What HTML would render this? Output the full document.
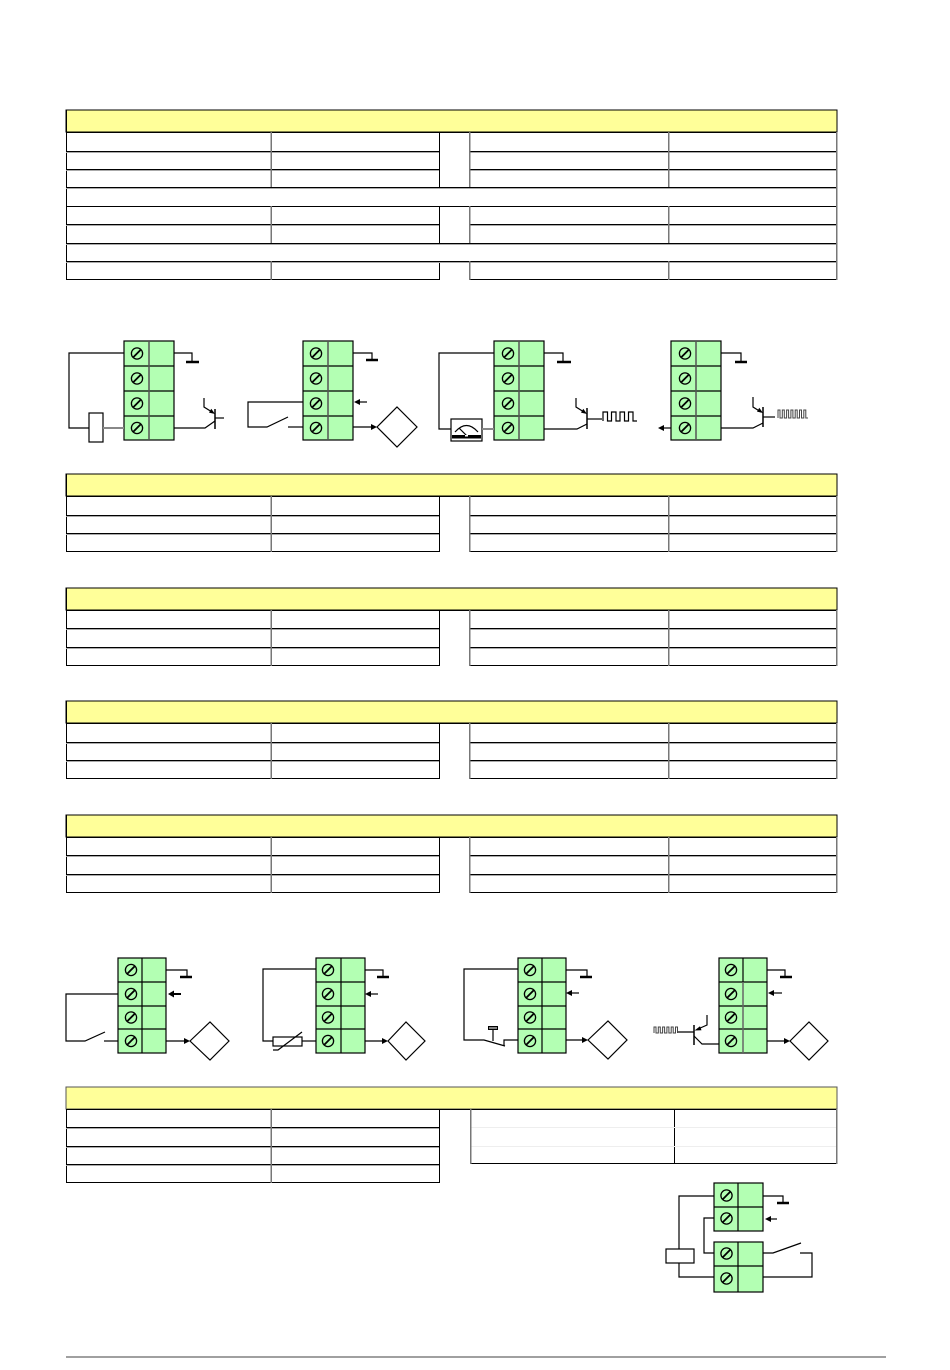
<!DOCTYPE html>
<html><head><meta charset="utf-8"><style>
html,body{margin:0;padding:0;background:#fff;}
svg{display:block;}
</style></head><body>
<svg width="950" height="1370" viewBox="0 0 950 1370" xmlns="http://www.w3.org/2000/svg">
<defs>
<g id="sc"><circle cx="0" cy="0" r="5.6" fill="none" stroke="#000" stroke-width="1.3"/><line x1="-3.6" y1="3.6" x2="3.6" y2="-3.6" stroke="#000" stroke-width="1.8"/></g>
</defs>
<rect width="950" height="1370" fill="#fff"/>

<!-- ============ TABLE 1 ============ -->
<g fill="none" shape-rendering="crispEdges">
<rect x="66" y="110" width="771" height="22" fill="#ffff99" stroke="#000"/>
<g stroke="#000">
<line x1="66" y1="132.5" x2="837" y2="132.5"/>
<line x1="66" y1="151.5" x2="439" y2="151.5"/><line x1="469" y1="151.5" x2="837" y2="151.5"/>
<line x1="66" y1="169.5" x2="439" y2="169.5"/><line x1="469" y1="169.5" x2="837" y2="169.5"/>
<line x1="66" y1="187.5" x2="837" y2="187.5"/>
<line x1="66" y1="206.5" x2="837" y2="206.5"/>
<line x1="66" y1="224.5" x2="439" y2="224.5"/><line x1="469" y1="224.5" x2="837" y2="224.5"/>
<line x1="66" y1="243.5" x2="837" y2="243.5"/>
<line x1="66" y1="261.5" x2="837" y2="261.5"/>
<line x1="66" y1="279.5" x2="439" y2="279.5"/><line x1="469" y1="279.5" x2="837" y2="279.5"/>
<line x1="439.5" y1="132" x2="439.5" y2="187"/><line x1="439.5" y1="206" x2="439.5" y2="243"/><line x1="439.5" y1="261" x2="439.5" y2="280"/>
<line x1="66.5" y1="110" x2="66.5" y2="280"/>
</g>
<g stroke="#aaa">
<line x1="66" y1="152.5" x2="439" y2="152.5"/><line x1="469" y1="152.5" x2="837" y2="152.5"/>
<line x1="66" y1="170.5" x2="439" y2="170.5"/><line x1="469" y1="170.5" x2="837" y2="170.5"/>
<line x1="66" y1="188.5" x2="837" y2="188.5"/>
<line x1="66" y1="225.5" x2="439" y2="225.5"/><line x1="469" y1="225.5" x2="837" y2="225.5"/>
<line x1="66" y1="244.5" x2="837" y2="244.5"/>
<line x1="66" y1="262.5" x2="837" y2="262.5"/>
</g>
<g stroke="#777" stroke-width="1.5">
<line x1="271" y1="132" x2="271" y2="187"/><line x1="271" y1="206" x2="271" y2="243"/><line x1="271" y1="261" x2="271" y2="280"/>
<line x1="469.5" y1="132" x2="469.5" y2="187"/><line x1="469.5" y1="206" x2="469.5" y2="243"/><line x1="469.5" y1="261" x2="469.5" y2="280"/>
<line x1="668.5" y1="132" x2="668.5" y2="187"/><line x1="668.5" y1="206" x2="668.5" y2="243"/><line x1="668.5" y1="261" x2="668.5" y2="280"/>
<line x1="836.5" y1="132" x2="836.5" y2="280"/>
</g>
</g>

<!-- ============ TABLES 2-5 (header + 3 rows) ============ -->
<g fill="none" shape-rendering="crispEdges">
<!-- T2 -->
<rect x="66" y="474" width="771" height="22" fill="#ffff99" stroke="#000"/>
<g stroke="#000">
<line x1="66" y1="496.5" x2="837" y2="496.5"/>
<line x1="66" y1="515.5" x2="439" y2="515.5"/><line x1="469" y1="515.5" x2="837" y2="515.5"/>
<line x1="66" y1="533.5" x2="439" y2="533.5"/><line x1="469" y1="533.5" x2="837" y2="533.5"/>
<line x1="66" y1="551.5" x2="439" y2="551.5"/><line x1="469" y1="551.5" x2="837" y2="551.5"/>
<line x1="439.5" y1="496" x2="439.5" y2="552"/><line x1="66.5" y1="474" x2="66.5" y2="552"/>
</g>
<g stroke="#aaa">
<line x1="66" y1="516.5" x2="439" y2="516.5"/><line x1="469" y1="516.5" x2="837" y2="516.5"/>
<line x1="66" y1="534.5" x2="439" y2="534.5"/><line x1="469" y1="534.5" x2="837" y2="534.5"/>
</g>
<g stroke="#777" stroke-width="1.5">
<line x1="271" y1="496" x2="271" y2="552"/><line x1="469.5" y1="496" x2="469.5" y2="552"/><line x1="668.5" y1="496" x2="668.5" y2="552"/><line x1="836.5" y1="496" x2="836.5" y2="552"/>
</g>
<!-- T3 -->
<rect x="66" y="588" width="771" height="22" fill="#ffff99" stroke="#000"/>
<g stroke="#000">
<line x1="66" y1="610.5" x2="837" y2="610.5"/>
<line x1="66" y1="628.5" x2="439" y2="628.5"/><line x1="469" y1="628.5" x2="837" y2="628.5"/>
<line x1="66" y1="647.5" x2="439" y2="647.5"/><line x1="469" y1="647.5" x2="837" y2="647.5"/>
<line x1="66" y1="665.5" x2="439" y2="665.5"/><line x1="469" y1="665.5" x2="837" y2="665.5"/>
<line x1="439.5" y1="610" x2="439.5" y2="666"/><line x1="66.5" y1="588" x2="66.5" y2="666"/>
</g>
<g stroke="#aaa">
<line x1="66" y1="629.5" x2="439" y2="629.5"/><line x1="469" y1="629.5" x2="837" y2="629.5"/>
<line x1="66" y1="648.5" x2="439" y2="648.5"/><line x1="469" y1="648.5" x2="837" y2="648.5"/>
</g>
<g stroke="#777" stroke-width="1.5">
<line x1="271" y1="610" x2="271" y2="666"/><line x1="469.5" y1="610" x2="469.5" y2="666"/><line x1="668.5" y1="610" x2="668.5" y2="666"/><line x1="836.5" y1="610" x2="836.5" y2="666"/>
</g>
<!-- T4 -->
<rect x="66" y="701" width="771" height="22" fill="#ffff99" stroke="#000"/>
<g stroke="#000">
<line x1="66" y1="723.5" x2="837" y2="723.5"/>
<line x1="66" y1="742.5" x2="439" y2="742.5"/><line x1="469" y1="742.5" x2="837" y2="742.5"/>
<line x1="66" y1="760.5" x2="439" y2="760.5"/><line x1="469" y1="760.5" x2="837" y2="760.5"/>
<line x1="66" y1="778.5" x2="439" y2="778.5"/><line x1="469" y1="778.5" x2="837" y2="778.5"/>
<line x1="439.5" y1="723" x2="439.5" y2="779"/><line x1="66.5" y1="701" x2="66.5" y2="779"/>
</g>
<g stroke="#aaa">
<line x1="66" y1="743.5" x2="439" y2="743.5"/><line x1="469" y1="743.5" x2="837" y2="743.5"/>
<line x1="66" y1="761.5" x2="439" y2="761.5"/><line x1="469" y1="761.5" x2="837" y2="761.5"/>
</g>
<g stroke="#777" stroke-width="1.5">
<line x1="271" y1="723" x2="271" y2="779"/><line x1="469.5" y1="723" x2="469.5" y2="779"/><line x1="668.5" y1="723" x2="668.5" y2="779"/><line x1="836.5" y1="723" x2="836.5" y2="779"/>
</g>
<!-- T5 -->
<rect x="66" y="815" width="771" height="22" fill="#ffff99" stroke="#000"/>
<g stroke="#000">
<line x1="66" y1="837.5" x2="837" y2="837.5"/>
<line x1="66" y1="855.5" x2="439" y2="855.5"/><line x1="469" y1="855.5" x2="837" y2="855.5"/>
<line x1="66" y1="874.5" x2="439" y2="874.5"/><line x1="469" y1="874.5" x2="837" y2="874.5"/>
<line x1="66" y1="892.5" x2="439" y2="892.5"/><line x1="469" y1="892.5" x2="837" y2="892.5"/>
<line x1="439.5" y1="837" x2="439.5" y2="893"/><line x1="66.5" y1="815" x2="66.5" y2="893"/>
</g>
<g stroke="#aaa">
<line x1="66" y1="856.5" x2="439" y2="856.5"/><line x1="469" y1="856.5" x2="837" y2="856.5"/>
<line x1="66" y1="875.5" x2="439" y2="875.5"/><line x1="469" y1="875.5" x2="837" y2="875.5"/>
</g>
<g stroke="#777" stroke-width="1.5">
<line x1="271" y1="837" x2="271" y2="893"/><line x1="469.5" y1="837" x2="469.5" y2="893"/><line x1="668.5" y1="837" x2="668.5" y2="893"/><line x1="836.5" y1="837" x2="836.5" y2="893"/>
</g>
</g>

<!-- ============ LAST TABLE ============ -->
<g fill="none" shape-rendering="crispEdges">
<rect x="66" y="1087" width="771" height="22" fill="#ffff99" stroke="#555"/>
<g stroke="#000">
<line x1="66" y1="1109.5" x2="837" y2="1109.5"/>
<line x1="66" y1="1127.5" x2="439" y2="1127.5"/>
<line x1="66" y1="1146.5" x2="439" y2="1146.5"/>
<line x1="66" y1="1164.5" x2="439" y2="1164.5"/>
<line x1="66" y1="1182.5" x2="439" y2="1182.5"/>
<line x1="439.5" y1="1109" x2="439.5" y2="1183"/>
<line x1="66.5" y1="1109" x2="66.5" y2="1183"/>
<line x1="470" y1="1163.5" x2="837" y2="1163.5"/>
<line x1="674.5" y1="1109" x2="674.5" y2="1164"/>
</g>
<g stroke="#aaa">
<line x1="66" y1="1128.5" x2="439" y2="1128.5"/>
<line x1="66" y1="1147.5" x2="439" y2="1147.5"/>
<line x1="66" y1="1165.5" x2="439" y2="1165.5"/>
</g>
<g stroke="#eee">
<line x1="470" y1="1127.5" x2="837" y2="1127.5"/>
<line x1="470" y1="1146.5" x2="837" y2="1146.5"/>
</g>
<g stroke="#777" stroke-width="1.5">
<line x1="271" y1="1109" x2="271" y2="1183"/>
<line x1="470.5" y1="1109" x2="470.5" y2="1164"/>
<line x1="836.5" y1="1109" x2="836.5" y2="1164"/>
</g>
</g>

<!-- ============ TERMINAL BLOCKS (top row) ============ -->
<g stroke="#000" stroke-width="1.2" fill="#b3ffb3">
<rect x="124" y="341" width="50" height="99"/>
<rect x="303" y="341" width="50" height="99"/>
<rect x="494" y="341" width="50" height="99"/>
<rect x="671" y="341" width="50" height="99"/>
</g>
<g stroke="#000" stroke-width="1.2" fill="none">
<path d="M124 366H174M124 391H174M124 416H174"/>
<path d="M303 366H353M303 391H353M303 416H353"/>
<path d="M494 366H544M494 391H544M494 416H544"/>
<path d="M671 366H721M671 391H721M671 416H721"/>
</g>
<g stroke="#555" stroke-width="1.5" fill="none">
<path d="M149 341V440M328 341V440M519 341V440M696 341V440"/>
</g>
<use href="#sc" x="137" y="353.5"/><use href="#sc" x="137" y="378.5"/><use href="#sc" x="137" y="403.5"/><use href="#sc" x="137" y="428"/>
<use href="#sc" x="316" y="353.5"/><use href="#sc" x="316" y="378.5"/><use href="#sc" x="316" y="403.5"/><use href="#sc" x="316" y="428"/>
<use href="#sc" x="508" y="353.5"/><use href="#sc" x="508" y="378.5"/><use href="#sc" x="508" y="403.5"/><use href="#sc" x="508" y="428"/>
<use href="#sc" x="685" y="353.5"/><use href="#sc" x="685" y="378.5"/><use href="#sc" x="685" y="403.5"/><use href="#sc" x="685" y="428"/>

<!-- Diagram 1 -->
<g stroke="#000" stroke-width="1.2" fill="none">
<path d="M124 353H69V428H89"/>
<rect x="89" y="413" width="14" height="29" fill="#fff"/>
<path d="M174 353H192V362"/>
<path d="M186 362H199" stroke-width="2.5"/>
<path d="M174 428H205L215 421"/>
<path d="M215 409V429" stroke-width="1.5"/>
<path d="M215 418H224"/>
<path d="M204 398V407L212 412"/>
</g>
<path d="M103 428H124" stroke="#888" stroke-width="2"/>
<polygon points="215,414 209,412.6 211.3,408.8" fill="#000"/>

<!-- Diagram 2 -->
<g stroke="#000" stroke-width="1.2" fill="none">
<path d="M353 353H372V360"/>
<path d="M366 360H378" stroke-width="2.5"/>
<path d="M367 402H358"/>
<path d="M303 402H248V427H267L288 417"/>
<path d="M288 427H303"/>
<path d="M353 427H373"/>
<polygon points="377,427 397,407 417,427 397,447" fill="#fff"/>
</g>
<polygon points="354,402 360,399 360,405" fill="#000"/>
<polygon points="377,427 371,424 371,430" fill="#000"/>

<!-- Diagram 3 -->
<g stroke="#000" stroke-width="1.2" fill="none">
<path d="M494 353H439V429H451"/>
<rect x="451" y="419" width="31" height="22" fill="#fff"/>
<path d="M455 432Q466.5 419 478 432"/>
<path d="M467 436L459 428"/>
<path d="M544 353H563V362"/>
<path d="M557 362H571" stroke-width="2.5"/>
<path d="M544 429H577L587 424"/>
<path d="M587 408V429" stroke-width="1.5"/>
<path d="M587 419H602"/>
<path d="M576 398V407L584 412"/>
<path d="M603 421V412H607.5V421H611.5V412H616V421H620V412H624.5V421H628.5V412H633V421H637"/>
</g>
<rect x="452" y="435" width="29" height="3.5" fill="#000"/>
<rect x="465" y="435" width="3" height="1.5" fill="#fff"/>
<path d="M482 429H494" stroke="#888" stroke-width="2"/>
<polygon points="587,414 581,412.6 583.3,408.8" fill="#000"/>

<!-- Diagram 4 -->
<g stroke="#000" stroke-width="1.2" fill="none">
<path d="M721 353H741V362"/>
<path d="M735 362H747" stroke-width="2.5"/>
<path d="M671 428H662"/>
<path d="M721 428H753L763 423"/>
<path d="M763 407V427" stroke-width="1.5"/>
<path d="M763 417H775"/>
<path d="M753 397V407L761 412"/>
</g>
<path d="M778 418V410H780V418H782.3V410H784.3V418H786.6V410H788.6V418H790.9V410H792.9V418H795.2V410H797.2V418H799.5V410H801.5V418H803.8V410H805.8V418H808" stroke="#444" stroke-width="1" fill="none"/>
<polygon points="658,428 664,425 664,431" fill="#000"/>
<polygon points="763,413 757,411.6 759.3,407.8" fill="#000"/>

<!-- ============ TERMINAL BLOCKS (bottom row) ============ -->
<g stroke="#000" stroke-width="1.2" fill="#b3ffb3">
<rect x="118" y="958" width="48" height="95"/>
<rect x="316" y="958" width="49" height="95"/>
<rect x="518" y="958" width="48" height="95"/>
<rect x="719" y="958" width="48" height="95"/>
</g>
<g stroke="#000" stroke-width="1.2" fill="none">
<path d="M118 982H166M118 1006H166M118 1029H166"/>
<path d="M316 982H365M316 1006H365M316 1029H365"/>
<path d="M518 982H566M518 1006H566M518 1029H566"/>
<path d="M719 982H767M719 1006H767M719 1029H767"/>
<path d="M142 958V1053M341 958V1053M542 958V1053M743 958V982"/>
</g>
<path d="M743 982V1053" stroke="#666" stroke-width="1.5"/>
<use href="#sc" x="131" y="970"/><use href="#sc" x="131" y="994"/><use href="#sc" x="131" y="1017.5"/><use href="#sc" x="131" y="1041"/>
<use href="#sc" x="328" y="970"/><use href="#sc" x="328" y="994"/><use href="#sc" x="328" y="1017.5"/><use href="#sc" x="328" y="1041"/>
<use href="#sc" x="530" y="970"/><use href="#sc" x="530" y="994"/><use href="#sc" x="530" y="1017.5"/><use href="#sc" x="530" y="1041"/>
<use href="#sc" x="731" y="970"/><use href="#sc" x="731" y="994"/><use href="#sc" x="731" y="1017.5"/><use href="#sc" x="731" y="1041"/>

<!-- Diagram 5 -->
<g stroke="#000" stroke-width="1.2" fill="none">
<path d="M166 970H187V977"/>
<path d="M180 977H192" stroke-width="2.5"/>
<path d="M181 994H172" stroke-width="2"/>
<path d="M118 994H66V1041H85L105 1032"/>
<path d="M104 1041H118"/>
<path d="M166 1041H186"/>
<polygon points="190,1041 210,1022 229,1041 210,1060" fill="#fff"/>
</g>
<polygon points="168,994 174,990.5 174,997.5" fill="#000"/>
<polygon points="190,1041 184,1038 184,1044" fill="#000"/>

<!-- Diagram 6 -->
<g stroke="#000" stroke-width="1.2" fill="none">
<path d="M365 970H383V977"/>
<path d="M377 977H389" stroke-width="2.5"/>
<path d="M378 994H369"/>
<path d="M316 969H263V1041H273"/>
<rect x="273" y="1037" width="29" height="9" fill="#fff"/>
<path d="M273 1050H278L302 1032"/>
<path d="M302 1041H316"/>
<path d="M365 1041H384"/>
<polygon points="388,1041 406,1022 425,1041 406,1060" fill="#fff"/>
</g>
<polygon points="365,994 371,991 371,997" fill="#000"/>
<polygon points="388,1041 382,1038 382,1044" fill="#000"/>

<!-- Diagram 7 -->
<g stroke="#000" stroke-width="1.2" fill="none">
<path d="M566 970H587V977"/>
<path d="M580 977H592" stroke-width="2.5"/>
<path d="M579 993H570"/>
<path d="M518 969H464V1040H484L505 1046"/>
<path d="M504 1046V1040H518"/>
<path d="M493 1030V1041"/>
<path d="M566 1040H584"/>
<polygon points="588,1040 608,1021 627,1040 608,1059" fill="#fff"/>
</g>
<rect x="488" y="1026" width="10" height="4" fill="#000"/>
<rect x="489" y="1027.5" width="8" height="1" fill="#fff"/>
<polygon points="566,993 572,990 572,996" fill="#000"/>
<polygon points="588,1040 582,1037 582,1043" fill="#000"/>

<!-- Diagram 8 -->
<g stroke="#000" stroke-width="1.2" fill="none">
<path d="M767 970H785V977"/>
<path d="M780 977H792" stroke-width="2.5"/>
<path d="M782 993H772"/>
<path d="M694 1025V1045" stroke-width="1.5"/>
<path d="M677 1032H694"/>
<path d="M707 1015V1025L698 1029"/>
<path d="M694 1036L702 1044H719"/>
<path d="M767 1041H786"/>
<polygon points="790,1041 809,1022 828,1041 809,1060" fill="#fff"/>
</g>
<path d="M654 1033V1027H656V1033H658.3V1027H660.3V1033H662.6V1027H664.6V1033H666.9V1027H668.9V1033H671.2V1027H673.2V1033H675.5V1027H677.5V1033" stroke="#444" stroke-width="1" fill="none"/>
<polygon points="694.5,1030.5 700,1026.3 701.5,1030.2" fill="#000"/>
<polygon points="768,993 774,990 774,996" fill="#000"/>
<polygon points="790,1041 784,1038 784,1044" fill="#000"/>

<!-- Diagram 9 (bottom right) -->
<g stroke="#000" stroke-width="1.2" fill="#b3ffb3">
<rect x="714" y="1183" width="49" height="48"/>
<rect x="714" y="1242" width="49" height="50"/>
</g>
<g stroke="#000" stroke-width="1.2" fill="none">
<path d="M714 1207H763M738 1183V1231"/>
<path d="M714 1266H763M738 1242V1292"/>
<path d="M714 1196H679V1249"/>
<rect x="666" y="1249" width="28" height="14" fill="#fff"/>
<path d="M679 1263V1277H714"/>
<path d="M714 1218H704V1253H714"/>
<path d="M763 1196H783V1203"/>
<path d="M777 1203H789" stroke-width="2.5"/>
<path d="M777 1219H769"/>
<path d="M763 1253H773L801 1243"/>
<path d="M800 1253H812V1277H763"/>
</g>
<polygon points="765,1219 771,1216 771,1222" fill="#000"/>
<use href="#sc" x="726.5" y="1195.5"/><use href="#sc" x="726.5" y="1218.5"/>
<use href="#sc" x="726.5" y="1253.5"/><use href="#sc" x="726.5" y="1278.5"/>

<!-- Footer line -->
<rect x="66" y="1356" width="820" height="2" fill="#a0a0a0"/>
</svg>
</body></html>
